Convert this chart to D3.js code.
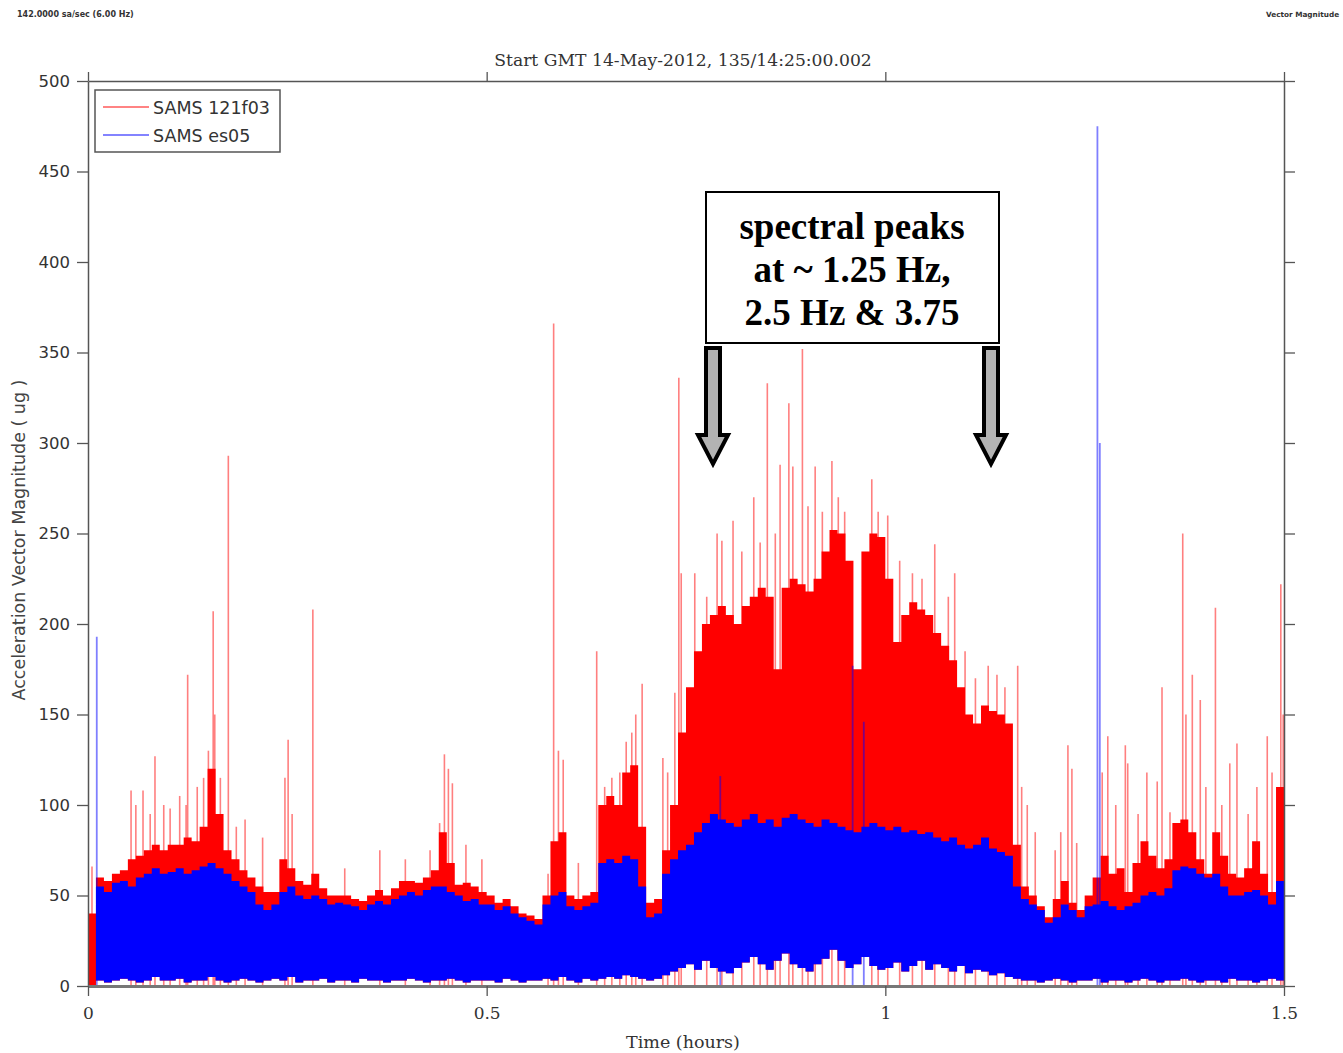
<!DOCTYPE html>
<html>
<head>
<meta charset="utf-8">
<script src="https://cdn.jsdelivr.net/npm/d3@7"></script>
<style>
    body { margin: 0; background: #fff; }
    svg { display: block; font-family: "DejaVu Sans", sans-serif; }
</style>
</head>
<body>
<div id="chart"></div>
<script>
// bin width of the envelopes, hours
const binHours = 0.01;

// dense envelope of SAMS 121f03 (red), ug, one value per bin
const redTop = [
    40, 60, 58, 62, 64, 70, 72, 75, 78, 75,
    78, 78, 82, 80, 88, 120, 95, 75, 70, 64,
    60, 55, 52, 52, 70, 65, 58, 56, 62, 54,
    50, 50, 50, 48, 47, 50, 53, 50, 54, 58,
    58, 57, 60, 64, 85, 68, 56, 57, 55, 52,
    50, 46, 48, 44, 40, 39, 37, 50, 80, 85,
    50, 48, 50, 52, 100, 105, 100, 118, 122, 88,
    46, 48, 75, 100, 140, 165, 185, 200, 205, 210,
    205, 200, 210, 215, 220, 215, 175, 220, 225, 222,
    218, 225, 240, 252, 250, 235, 175, 240, 250, 248,
    225, 190, 205, 212, 208, 205, 195, 188, 180, 165,
    150, 145, 155, 152, 150, 145, 78, 55, 50, 44,
    38, 48, 58, 46, 42, 50, 60, 72, 62, 65,
    52, 68, 80, 72, 65, 70, 90, 92, 85, 70,
    62, 85, 72, 62, 60, 65, 80, 62, 52, 110
];

// dense envelope of SAMS es05 (blue)
const blueTop = [
    0, 55, 52, 57, 58, 55, 60, 62, 65, 62,
    63, 65, 62, 64, 66, 68, 65, 62, 58, 55,
    52, 45, 42, 45, 52, 55, 50, 48, 50, 48,
    45, 46, 45, 44, 42, 45, 47, 45, 48, 50,
    52, 50, 53, 55, 55, 52, 50, 47, 48, 45,
    45, 42, 44, 40, 38, 36, 34, 45, 50, 52,
    44, 42, 44, 46, 68, 70, 68, 72, 70, 55,
    38, 40, 62, 70, 75, 78, 85, 90, 95, 92,
    90, 88, 92, 95, 90, 92, 88, 93, 95, 92,
    90, 88, 92, 90, 88, 86, 85, 88, 90, 88,
    86, 88, 85, 86, 84, 85, 82, 80, 82, 78,
    76, 78, 82, 76, 74, 72, 55, 48, 45, 42,
    35, 38, 45, 42, 38, 44, 45, 47, 44, 42,
    44, 46, 50, 52, 50, 54, 64, 66, 65, 62,
    60, 62, 55, 50, 50, 52, 53, 50, 45, 58
];

// lower edge of the dense signal (white gap above zero)
const floorLo = [
    0, 3, 2, 3, 4, 3, 2, 3, 5, 3,
    3, 4, 2, 3, 3, 5, 3, 2, 3, 4,
    3, 2, 3, 4, 3, 5, 2, 3, 3, 4,
    2, 3, 3, 2, 4, 3, 3, 2, 3, 3,
    4, 3, 2, 3, 3, 4, 3, 2, 3, 3,
    3, 2, 4, 3, 2, 3, 3, 4, 3, 5,
    3, 2, 4, 3, 4, 5, 4, 6, 5, 4,
    3, 4, 6, 8, 10, 12, 9, 14, 10, 8,
    7, 10, 13, 16, 12, 9, 14, 18, 12, 10,
    8, 12, 15, 20, 14, 10, 12, 16, 11, 9,
    10, 13, 8, 11, 14, 9, 12, 10, 8, 11,
    7, 9, 8, 6, 7, 5, 4, 3, 3, 2,
    3, 4, 3, 2, 3, 3, 4, 2, 3, 3,
    2, 3, 4, 3, 2, 3, 3, 4, 3, 2,
    3, 3, 2, 4, 3, 3, 2, 3, 4, 3
];

// isolated spikes, time (hours) and peak (ug)
const redSpikeT = [
    0.005, 0.054, 0.060, 0.069, 0.078, 0.084, 0.095, 0.103, 0.115, 0.123,
    0.125, 0.137, 0.145, 0.151, 0.157, 0.159, 0.166, 0.176, 0.186, 0.197,
    0.219, 0.247, 0.251, 0.256, 0.282, 0.322, 0.366, 0.398, 0.429, 0.441,
    0.447, 0.452, 0.457, 0.474, 0.494, 0.577, 0.584, 0.590, 0.596, 0.615,
    0.638, 0.648, 0.657, 0.667, 0.675, 0.682, 0.687, 0.695, 0.721, 0.727,
    0.736, 0.741, 0.744, 0.761, 0.776, 0.789, 0.795, 0.809, 0.820, 0.835,
    0.843, 0.852, 0.862, 0.868, 0.879, 0.884, 0.896, 0.903, 0.912, 0.921,
    0.933, 0.941, 0.949, 0.983, 0.991, 1.003, 1.018, 1.034, 1.046, 1.062,
    1.079, 1.087, 1.100, 1.113, 1.129, 1.140, 1.150, 1.166, 1.171, 1.178,
    1.188, 1.213, 1.220, 1.229, 1.234, 1.240, 1.272, 1.279, 1.289, 1.301,
    1.304, 1.317, 1.328, 1.341, 1.347, 1.357, 1.373, 1.377, 1.385, 1.395,
    1.402, 1.414, 1.422, 1.432, 1.441, 1.455, 1.466, 1.479, 1.485, 1.496,
    1.499
];
const redSpikeV = [
    66, 108, 100, 108, 95, 127, 100, 98, 105, 100,
    172, 110, 115, 130, 207, 150, 115, 293, 88, 92,
    82, 115, 136, 95, 208, 65, 75, 70, 75, 90,
    128, 120, 112, 78, 70, 62, 366, 130, 125, 68,
    185, 110, 115, 118, 135, 140, 150, 167, 126, 118,
    162, 336, 228, 228, 215, 250, 246, 257, 240, 270,
    245, 333, 250, 288, 322, 287, 352, 265, 287, 262,
    290, 270, 262, 280, 262, 260, 235, 228, 225, 244,
    215, 228, 185, 170, 177, 172, 165, 177, 110, 100,
    85, 75, 85, 133, 120, 79, 118, 138, 100, 133,
    123, 95, 118, 113, 165, 96, 250, 150, 172, 158,
    110, 209, 100, 123, 134, 95, 110, 138, 118, 222,
    150
];
const blueSpikeT = [0.011, 0.793, 0.959, 0.973, 1.266, 1.269];
const blueSpikeV = [193, 116, 177, 146, 475, 300];

const seriesNames = ["SAMS 121f03", "SAMS es05"];
const seriesColors = ["#ff0000", "#0000ff"];
const yTicks = [0, 50, 100, 150, 200, 250, 300, 350, 400, 450, 500];
const xTicks = [0, 0.5, 1, 1.5];

const W = 1343, H = 1053;
const plot = {left: 88, right: 1284, top: 81, bottom: 986};

const svg = d3.select("#chart").append("svg")
    .attr("width", W)
    .attr("height", H);

const x = d3.scaleLinear().domain([0, 1.5]).range([plot.left, plot.right]);
const y = d3.scaleLinear().domain([0, 500]).range([plot.bottom, plot.top]);

svg.append("clipPath").attr("id", "clip")
    .append("rect")
    .attr("x", plot.left).attr("y", plot.top)
    .attr("width", plot.right - plot.left).attr("height", plot.bottom - plot.top);

// bins, with one closing row at the end of the record
let bins = redTop.map((v, i) => ({t: i * binHours, red: v, blue: blueTop[i], lo: floorLo[i]}));
bins.push(Object.assign({}, bins[bins.length - 1], {t: 1.5}));

const g = svg.append("g").attr("clip-path", "url(#clip)");

// red spikes
g.selectAll(".rspike")
    .data(redSpikeT.map((t, i) => ({t: t, v: redSpikeV[i]})))
    .enter().append("line")
    .attr("class", "rspike")
    .attr("x1", d => x(d.t)).attr("x2", d => x(d.t))
    .attr("y1", y(0)).attr("y2", d => y(d.v))
    .attr("stroke", "#ff0000")
    .attr("stroke-opacity", 0.5)
    .attr("stroke-width", 1.6);

// dense red
g.append("path")
    .datum(bins)
    .attr("d", d3.area()
        .x(d => x(d.t))
        .y0(d => y(d.lo))
        .y1(d => y(d.red))
        .curve(d3.curveStepAfter))
    .attr("fill", seriesColors[0]);

// dense blue
g.append("path")
    .datum(bins)
    .attr("d", d3.area()
        .x(d => x(d.t))
        .y0(d => y(d.lo))
        .y1(d => y(d.blue))
        .curve(d3.curveStepAfter))
    .attr("fill", seriesColors[1]);

// blue spikes
g.selectAll(".bspike")
    .data(blueSpikeT.map((t, i) => ({t: t, v: blueSpikeV[i]})))
    .enter().append("line")
    .attr("class", "bspike")
    .attr("x1", d => x(d.t)).attr("x2", d => x(d.t))
    .attr("y1", y(0)).attr("y2", d => y(d.v))
    .attr("stroke", "#0000ff")
    .attr("stroke-opacity", 0.5)
    .attr("stroke-width", 1.8);

// axes
function styleAxis(sel, color, width) {
    sel.selectAll(".domain").attr("stroke", color).attr("stroke-width", width);
    sel.selectAll(".tick line").attr("stroke", "#555").attr("stroke-width", 1.3);
    sel.selectAll("text").attr("fill", "#333");
}

const axisL = svg.append("g")
    .attr("transform", `translate(${plot.left},0)`)
    .call(d3.axisLeft(y).tickValues(yTicks).tickSize(11).tickSizeOuter(0).tickPadding(7));
axisL.selectAll("text").style("font-family", "'DejaVu Sans', sans-serif").style("font-size", "16.5px");
styleAxis(axisL, "#555", 1.5);

const axisR = svg.append("g")
    .attr("transform", `translate(${plot.right},0)`)
    .call(d3.axisRight(y).tickValues(yTicks).tickSize(11).tickSizeOuter(0).tickFormat(""));
styleAxis(axisR, "#555", 1.5);

const axisT = svg.append("g")
    .attr("transform", `translate(0,${plot.top})`)
    .call(d3.axisTop(x).tickValues(xTicks).tickSize(9).tickSizeOuter(0).tickFormat(""));
styleAxis(axisT, "#555", 1.5);

const axisB = svg.append("g")
    .attr("transform", `translate(0,${plot.bottom})`)
    .call(d3.axisBottom(x).tickValues(xTicks).tickSize(10).tickSizeOuter(0).tickPadding(11)
        .tickFormat(d => String(d)));
axisB.selectAll("text").style("font-family", "'DejaVu Serif', serif").style("font-size", "17px");
styleAxis(axisB, "#777", 3);

// titles
svg.append("text")
    .attr("x", 683).attr("y", 66)
    .attr("text-anchor", "middle")
    .style("font-family", "'DejaVu Serif', serif")
    .style("font-size", "17.2px")
    .attr("fill", "#333")
    .text("Start GMT 14-May-2012, 135/14:25:00.002");

svg.append("text")
    .attr("x", 683).attr("y", 1048)
    .attr("text-anchor", "middle")
    .style("font-family", "'DejaVu Serif', serif")
    .style("font-size", "17.5px")
    .attr("fill", "#333")
    .text("Time (hours)");

svg.append("text")
    .attr("transform", "translate(25,540) rotate(-90)")
    .attr("text-anchor", "middle")
    .style("font-size", "17.5px")
    .attr("fill", "#444")
    .text("Acceleration Vector Magnitude  ( ug )");

svg.append("text")
    .attr("x", 17).attr("y", 17)
    .style("font-size", "8px").style("font-weight", "bold")
    .attr("fill", "#333")
    .text("142.0000 sa/sec (6.00 Hz)");

svg.append("text")
    .attr("x", 1266).attr("y", 17)
    .style("font-size", "7.3px").style("font-weight", "bold")
    .attr("fill", "#333")
    .text("Vector Magnitude");

// legend
const legend = svg.append("g");
legend.append("rect")
    .attr("x", 95).attr("y", 90).attr("width", 185).attr("height", 62)
    .attr("fill", "#fff").attr("stroke", "#555").attr("stroke-width", 1.5);
seriesNames.forEach((name, i) => {
    legend.append("line")
        .attr("x1", 103).attr("x2", 149)
        .attr("y1", 107 + i * 28).attr("y2", 107 + i * 28)
        .attr("stroke", seriesColors[i]).attr("stroke-opacity", 0.65).attr("stroke-width", 1.6);
    legend.append("text")
        .attr("x", 153).attr("y", 114 + i * 28)
        .style("font-size", "17.5px")
        .attr("fill", "#333")
        .text(name);
});

// annotation box
const note = svg.append("g");
note.append("rect")
    .attr("x", 706).attr("y", 192).attr("width", 293).attr("height", 151)
    .attr("fill", "#fff").attr("stroke", "#000").attr("stroke-width", 2);
["spectral peaks", "at ~ 1.25 Hz,", "2.5 Hz & 3.75"].forEach((line, i) => {
    note.append("text")
        .attr("x", 852).attr("y", 239 + i * 43)
        .attr("text-anchor", "middle")
        .style("font-family", "'Liberation Serif', 'Times New Roman', serif")
        .style("font-weight", "bold")
        .style("font-size", "37px")
        .attr("fill", "#000")
        .text(line);
});

// arrows
[713, 991].forEach(cx => {
    note.append("path")
        .attr("d", `M${cx - 7},348 L${cx + 7},348 L${cx + 7},435 L${cx + 15},435 L${cx},464 L${cx - 15},435 L${cx - 7},435 Z`)
        .attr("fill", "#b3b3b3")
        .attr("stroke", "#000")
        .attr("stroke-width", 4)
        .attr("stroke-linejoin", "miter");
});
</script>
</body>
</html>
